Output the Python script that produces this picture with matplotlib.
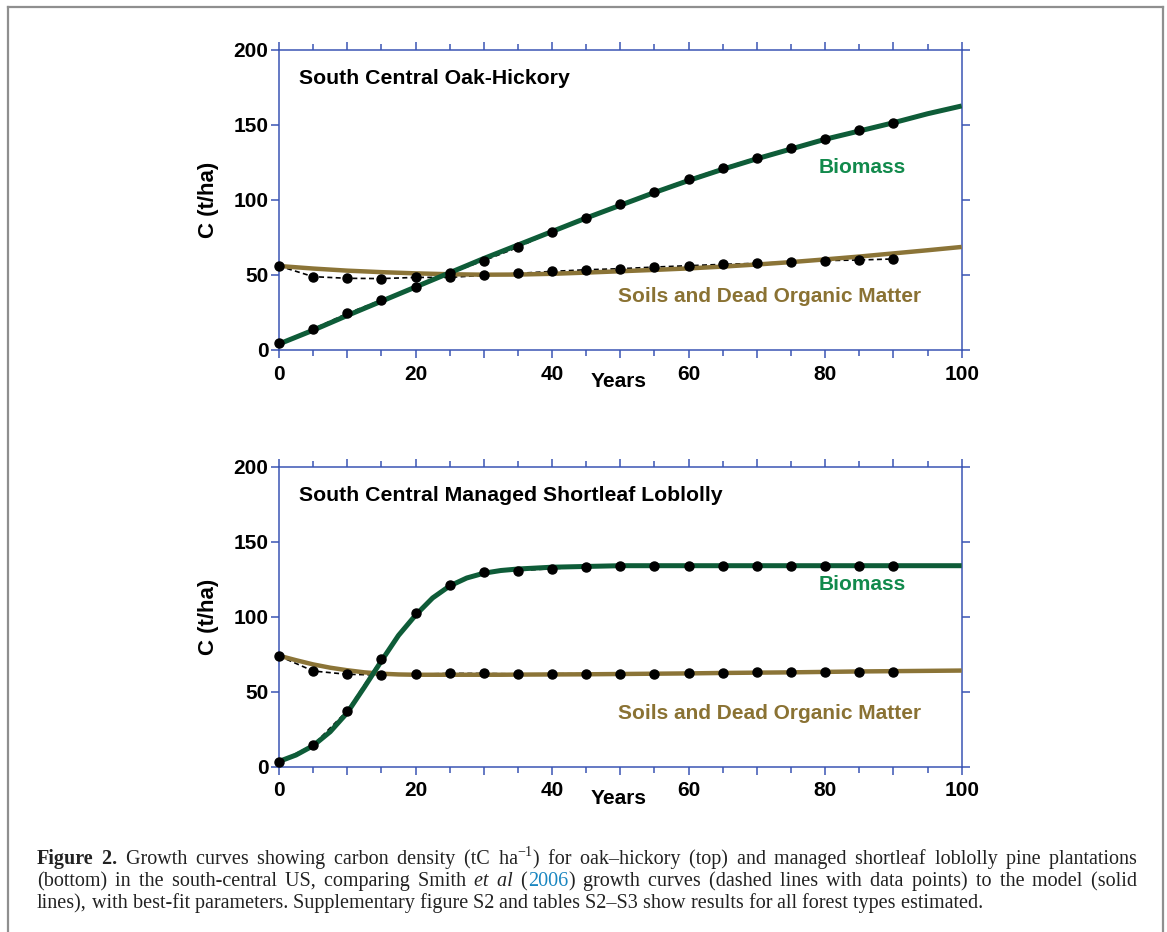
import matplotlib
matplotlib.use("Agg")
import matplotlib.pyplot as plt
from matplotlib.ticker import MultipleLocator, FuncFormatter
from matplotlib.lines import Line2D

plt.rcParams['font.family'] = ['Liberation Sans', 'DejaVu Sans']

# ---- data ----
years_pts = [0, 5, 10, 15, 20, 25, 30, 35, 40, 45, 50, 55, 60, 65, 70, 75, 80, 85, 90]

# oak-hickory: Smith et al points
oak_bio_pts = [4.4, 14, 24.4, 33.3, 42.2, 51.1, 59.6, 68.4, 78.9, 87.8, 97.1,
               105.6, 113.8, 121.3, 128.2, 134.7, 140.7, 146.4, 151.3]
oak_soil_pts = [56, 48.9, 47.8, 47.6, 48.4, 48.4, 49.8, 51.1, 52.4, 53.5, 54.2,
                55.3, 56.2, 57.1, 57.8, 58.7, 59.6, 60.0, 60.7]

# oak-hickory: model curves
oak_model_years = [0, 5, 10, 15, 20, 25, 30, 35, 40, 45, 50, 55, 60, 65, 70, 75, 80, 85, 90, 95, 100]
oak_bio_model = [4, 13.2, 23, 32.5, 42, 51.5, 61, 70, 79, 88, 96.5, 105, 113,
                 120.5, 127.5, 134, 140.5, 146, 151.5, 157.5, 162.7]
oak_soil_model = [56, 54.3, 52.9, 51.9, 51.1, 50.5, 50.2, 50.3, 50.8, 51.6, 52.5,
                  53.4, 54.4, 55.6, 57.0, 58.6, 60.4, 62.3, 64.4, 66.5, 68.7]

# managed shortleaf loblolly: Smith et al points
lob_bio_pts = [3.3, 14.4, 37.3, 71.8, 102.2, 121.1, 129.8, 130.7, 132, 133, 134,
               134, 134, 134, 134, 134, 134, 134, 134]
lob_soil_pts = [73.8, 63.8, 61.6, 61.1, 61.6, 62.2, 62.2, 61.8, 62, 62, 62,
                62, 62.4, 62.4, 62.9, 62.9, 62.9, 63.3, 63.3]

# managed shortleaf loblolly: model curves
lob_model_years = [0, 2.5, 5, 7.5, 10, 12.5, 15, 17.5, 20, 22.5, 25, 27.5, 30, 32.5, 35,
                   40, 45, 50, 55, 60, 65, 70, 75, 80, 85, 90, 95, 100]
lob_bio_model = [3.5, 7.8, 14, 23.3, 36, 53, 70.5, 87.5, 101, 112.5, 120.5, 125.8, 129,
                 130.8, 131.8, 133, 133.5, 134, 134, 134, 134, 134, 134, 134, 134, 134, 134, 134]
lob_soil_model = [74, 71, 68.2, 66, 64.3, 62.9, 62, 61.5, 61.3, 61.3, 61.3, 61.3, 61.3,
                  61.3, 61.4, 61.5, 61.6, 61.8, 62, 62.2, 62.5, 62.7, 62.9, 63.2, 63.5,
                  63.7, 63.9, 64.1]

panel_titles = ["South Central Oak-Hickory", "South Central Managed Shortleaf Loblolly"]

AXIS_BLUE = "#3a55b4"
BIO_LINE = "#0e5c38"
BIO_TEXT = "#128a4c"
SOIL_LINE = "#8b7437"
SOIL_TEXT = "#8a7233"

W, H = 1167, 932


def box(l, t, r, b):
    return [l / W, 1 - b / H, (r - l) / W, (b - t) / H]


fig = plt.figure(figsize=(W / 100, H / 100), dpi=100)
ax_top = fig.add_axes(box(279, 50, 961.7, 350))
ax_bot = fig.add_axes(box(279, 466.7, 961.7, 766.7))


def style_axes(ax):
    ax.set_xlim(0, 100)
    ax.set_ylim(0, 200)
    for sp in ax.spines.values():
        sp.set_color(AXIS_BLUE)
        sp.set_linewidth(1.1)
    ax.xaxis.set_major_locator(MultipleLocator(10))
    ax.xaxis.set_minor_locator(MultipleLocator(5))
    ax.yaxis.set_major_locator(MultipleLocator(50))
    ax.xaxis.set_major_formatter(FuncFormatter(lambda v, p: f"{v:.0f}" if v % 20 == 0 else ""))
    ax.tick_params(which='both', direction='out', color=AXIS_BLUE, width=1.1,
                   top=True, right=True, labelsize=15, labelcolor='black')
    ax.tick_params(which='major', length=5.5)
    ax.tick_params(which='minor', length=4)
    ax.tick_params(axis='x', pad=5)
    ax.tick_params(axis='y', pad=2)
    for lab in ax.get_xticklabels() + ax.get_yticklabels():
        lab.set_fontweight('bold')
    ax.set_ylabel("C (t/ha)", fontsize=16, fontweight='bold')
    ax.yaxis.set_label_coords(-0.088, 0.5)
    ax.text(0.498, -0.105, "Years", transform=ax.transAxes, ha='center', va='center',
            fontsize=15, fontweight='bold')


def draw_panel(ax, title, model_years, bio_model, soil_model, bio_pts, soil_pts):
    style_axes(ax)
    # dashed Smith et al curves
    ax.plot(years_pts, bio_pts, color='black', lw=1.2, ls=(0, (3, 2)), zorder=2, clip_on=False)
    ax.plot(years_pts, soil_pts, color='black', lw=1.2, ls=(0, (3, 2)), zorder=2, clip_on=False)
    # model curves
    ax.plot(model_years, soil_model, color=SOIL_LINE, lw=3.2, zorder=3, solid_capstyle='butt')
    ax.plot(model_years, bio_model, color=BIO_LINE, lw=3.6, zorder=3, solid_capstyle='butt')
    # data points
    ax.plot(years_pts, bio_pts, 'o', color='black', ms=6.5, zorder=4, clip_on=False)
    ax.plot(years_pts, soil_pts, 'o', color='black', ms=6.5, zorder=4, clip_on=False)

    ax.text(0.029, 0.905, title, transform=ax.transAxes, ha='left', va='center',
            fontsize=15.3, fontweight='bold')
    ax.text(0.854, 0.607, "Biomass", transform=ax.transAxes, ha='center', va='center',
            fontsize=15, fontweight='bold', color=BIO_TEXT)
    ax.text(0.718, 0.178, "Soils and Dead Organic Matter", transform=ax.transAxes,
            ha='center', va='center', fontsize=15, fontweight='bold', color=SOIL_TEXT)


draw_panel(ax_top, panel_titles[0], oak_model_years, oak_bio_model, oak_soil_model,
           oak_bio_pts, oak_soil_pts)
draw_panel(ax_bot, panel_titles[1], lob_model_years, lob_bio_model, lob_soil_model,
           lob_bio_pts, lob_soil_pts)

# ---- caption and frame ----
cap = fig.add_axes([0, 0, 1, 1], zorder=-1)
cap.set_xlim(0, 1)
cap.set_ylim(0, 1)
cap.axis('off')

frame_kw = dict(color="#8f8f8f", lw=1.6, transform=cap.transAxes)
cap.add_line(Line2D([8 / W, 8 / W], [0, 1 - 7 / H], **frame_kw))
cap.add_line(Line2D([8 / W, 1163 / W], [1 - 7 / H, 1 - 7 / H], **frame_kw))
cap.add_line(Line2D([1163 / W, 1163 / W], [1 - 7 / H, 0], **frame_kw))

SERIF = ['Liberation Serif', 'DejaVu Serif']
CAP_FS = 14.5
CAP_LEFT, CAP_RIGHT = 37, 1137


def caption_line(pieces, base_px, justify=True):
    """pieces: list of (text, style-dict). Words get their own artist so the
    line can be stretched to the full caption width."""
    arts = []      # (artist, starts after a space)
    prev = None
    pending_space = False
    for txt, kw in pieces:
        sup = kw.get('sup', False)
        opts = dict(family=SERIF, fontsize=CAP_FS, color='#222222')
        opts.update({k: v for k, v in kw.items() if k != 'sup'})
        if sup:
            opts['fontsize'] = CAP_FS * 0.7
            a = cap.annotate(txt, xy=(1, 0.55), xycoords=prev, va='bottom', ha='left',
                             xytext=(0, 0), textcoords='offset points', **opts)
            arts.append((a, False))
            prev = (a, prev)
            continue
        words = txt.split(' ')
        for i, w in enumerate(words):
            start = i > 0 or pending_space
            pending_space = False
            if w == '':
                if i > 0:
                    pending_space = True
                continue
            if start:
                w = ' ' + w
            if prev is None:
                a = cap.text(CAP_LEFT / W, 1 - base_px / H, w, va='baseline', ha='left', **opts)
            else:
                a = cap.annotate(w, xy=(1, 0), xycoords=prev, va='bottom', ha='left',
                                 xytext=(0, 0), textcoords='offset points', **opts)
            arts.append((a, start))
            prev = a
    if not justify:
        return
    fig.canvas.draw()
    right = arts[-1][0].get_window_extent().x1
    n_gaps = sum(1 for a, s in arts if s)
    extra_pt = (CAP_RIGHT - right) / max(n_gaps, 1) * 72 / fig.dpi
    for a, s in arts:
        if s:
            a.xyann = (extra_pt, 0)


caption_line([("Figure 2.", dict(weight='bold')),
              (" Growth curves showing carbon density (tC ha", {}),
              ("\u22121", dict(sup=True)),
              (") for oak\u2013hickory (top) and managed shortleaf loblolly pine plantations", {})],
             864)
caption_line([("(bottom) in the south-central US, comparing Smith ", {}),
              ("et al", dict(style='italic')),
              (" (", {}),
              ("2006", dict(color='#1a86c0')),
              (") growth curves (dashed lines with data points) to the model (solid", {})],
             886)
caption_line([("lines), with best-fit parameters. Supplementary figure S2 and tables S2\u2013S3 "
               "show results for all forest types estimated.", {})],
             908, justify=False)

fig.savefig("out.png", dpi=100)
